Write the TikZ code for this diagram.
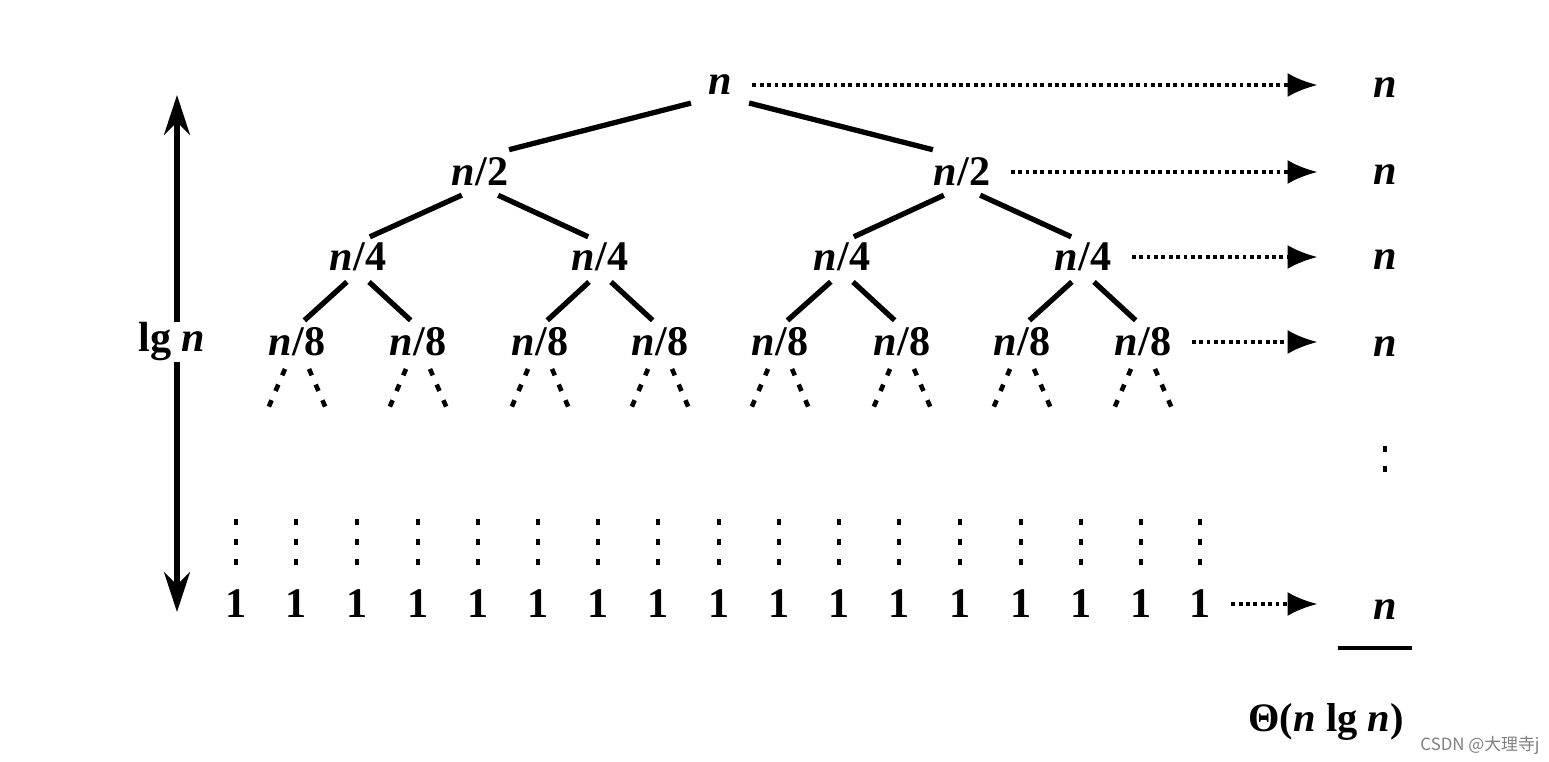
\documentclass[tikz,border=0pt]{standalone}
\usepackage{fontspec}
\setmainfont{Liberation Serif}
\newfontfamily\cjk{Noto Sans CJK SC}
\usetikzlibrary{arrows.meta}
\newcommand\vn{\textit{n}}
\tikzset{every picture/.style = {x=0.1mm, y=-0.1mm}}
\tikzset{lvl/.style = {font=\fontsize{12}{14}\selectfont\bfseries, inner sep=0pt}}
\tikzset{edge/.style = {line width=1.5pt, shorten <=2mm, shorten >=2mm}}
\tikzset{sum/.style = {densely dotted, line width=1.1pt, shorten <=2mm, shorten >=5.5mm,
  -{Latex[length=3mm, width=2.4mm]}}}
\tikzset{gone/.style = {line width=1.3pt, dash pattern=on 0.7mm off 1mm}}
\tikzset{down/.style = {line width=1.3pt, dash pattern=on 0.6mm off 1.4mm}}

\begin{document}
\begin{tikzpicture}
  \useasboundingbox (0,0) rectangle (1549,761);
  % the tree
  \node[lvl] (r) at (720,85) {\vn};
  \node[lvl] (h1) at (480,172) {\vn/2};
  \node[lvl] (h2) at (962,172) {\vn/2};
  \node[lvl] (q1) at (358,257) {\vn/4};
  \node[lvl] (q2) at (600,257) {\vn/4};
  \node[lvl] (q3) at (842,257) {\vn/4};
  \node[lvl] (q4) at (1083,257) {\vn/4};
  \foreach \i/\x in {1/297, 2/418, 3/540, 4/660, 5/780, 6/902, 7/1022, 8/1143}
    \node[lvl] (e\i) at (\x,342) {\vn/8};
  \draw[edge, shorten <=3mm, shorten >=3mm] (r.south) -- (h1.north);
  \draw[edge, shorten <=3mm, shorten >=3mm] (r.south) -- (h2.north);
  \draw[edge, shorten >=1.3mm] (h1.south) -- (q1.north);
  \draw[edge, shorten >=1.3mm] (h1.south) -- (q2.north);
  \draw[edge, shorten >=1.3mm] (h2.south) -- (q3.north);
  \draw[edge, shorten >=1.3mm] (h2.south) -- (q4.north);
  \foreach \p/\a/\b in {q1/e1/e2, q2/e3/e4, q3/e5/e6, q4/e7/e8} {
    \draw[edge, shorten <=1.5mm, shorten >=1mm] (\p.south) -- (\a.north);
    \draw[edge, shorten <=1.5mm, shorten >=1mm] (\p.south) -- (\b.north);
  }
  \foreach \i in {1,...,8} {
    \draw[gone] (e\i.south) ++(-12,12) -- ++(-18,42);
    \draw[gone] (e\i.south) ++(12,12) -- ++(18,42);
  }
  % leaves
  \foreach \i/\x in {1/236, 2/296, 3/357, 4/418, 5/478, 6/538, 7/598, 8/658, 9/719,
      10/779, 11/839, 12/899, 13/960, 14/1021, 15/1081, 16/1141, 17/1200} {
    \node[lvl] (o\i) at (\x,604) {1};
    \draw[down] (\x,519) -- (\x,566);
  }
  % height
  \coordinate (top) at (177,95);
  \coordinate (bot) at (177,612);
  \node[lvl] (lg) at (172,342) {lg \vn};
  \draw[line width=1.5pt, -{Stealth[length=4mm, width=2.6mm]}] (lg.north -| top) -- (top);
  \draw[line width=1.5pt, -{Stealth[length=4mm, width=2.6mm]}] (lg.south -| top) -- (bot);
  % costs per level
  \node[lvl] (s0) at (1385,88) {\vn};
  \node[lvl] (s1) at (1385,175) {\vn};
  \node[lvl] (s2) at (1385,260) {\vn};
  \node[lvl] (s3) at (1385,347) {\vn};
  \node[lvl] (s4) at (1385,610) {\vn};
  \draw[sum] (r.east) -- (r.east -| s0.west);
  \draw[sum] (h2.east) -- (h2.east -| s1.west);
  \draw[sum] (q4.east) -- (q4.east -| s2.west);
  \draw[sum] (e8.east) -- (e8.east -| s3.west);
  \draw[sum] (o17.east) -- (o17.east -| s4.west);
  \draw[down] (1385,446) -- (1385,482);
  \draw[line width=1.3pt] (1338,648) -- (1412,648);
  \node[lvl, font=\fontsize{11.5}{14}\selectfont\bfseries] (tot) at (1326,722) {Θ(\vn{} lg \vn)};
  \node[font=\cjk\fontsize{4.8}{6}\selectfont, text=gray] (wm) at (1480,745) {CSDN @大理寺j};
\end{tikzpicture}
\end{document}
